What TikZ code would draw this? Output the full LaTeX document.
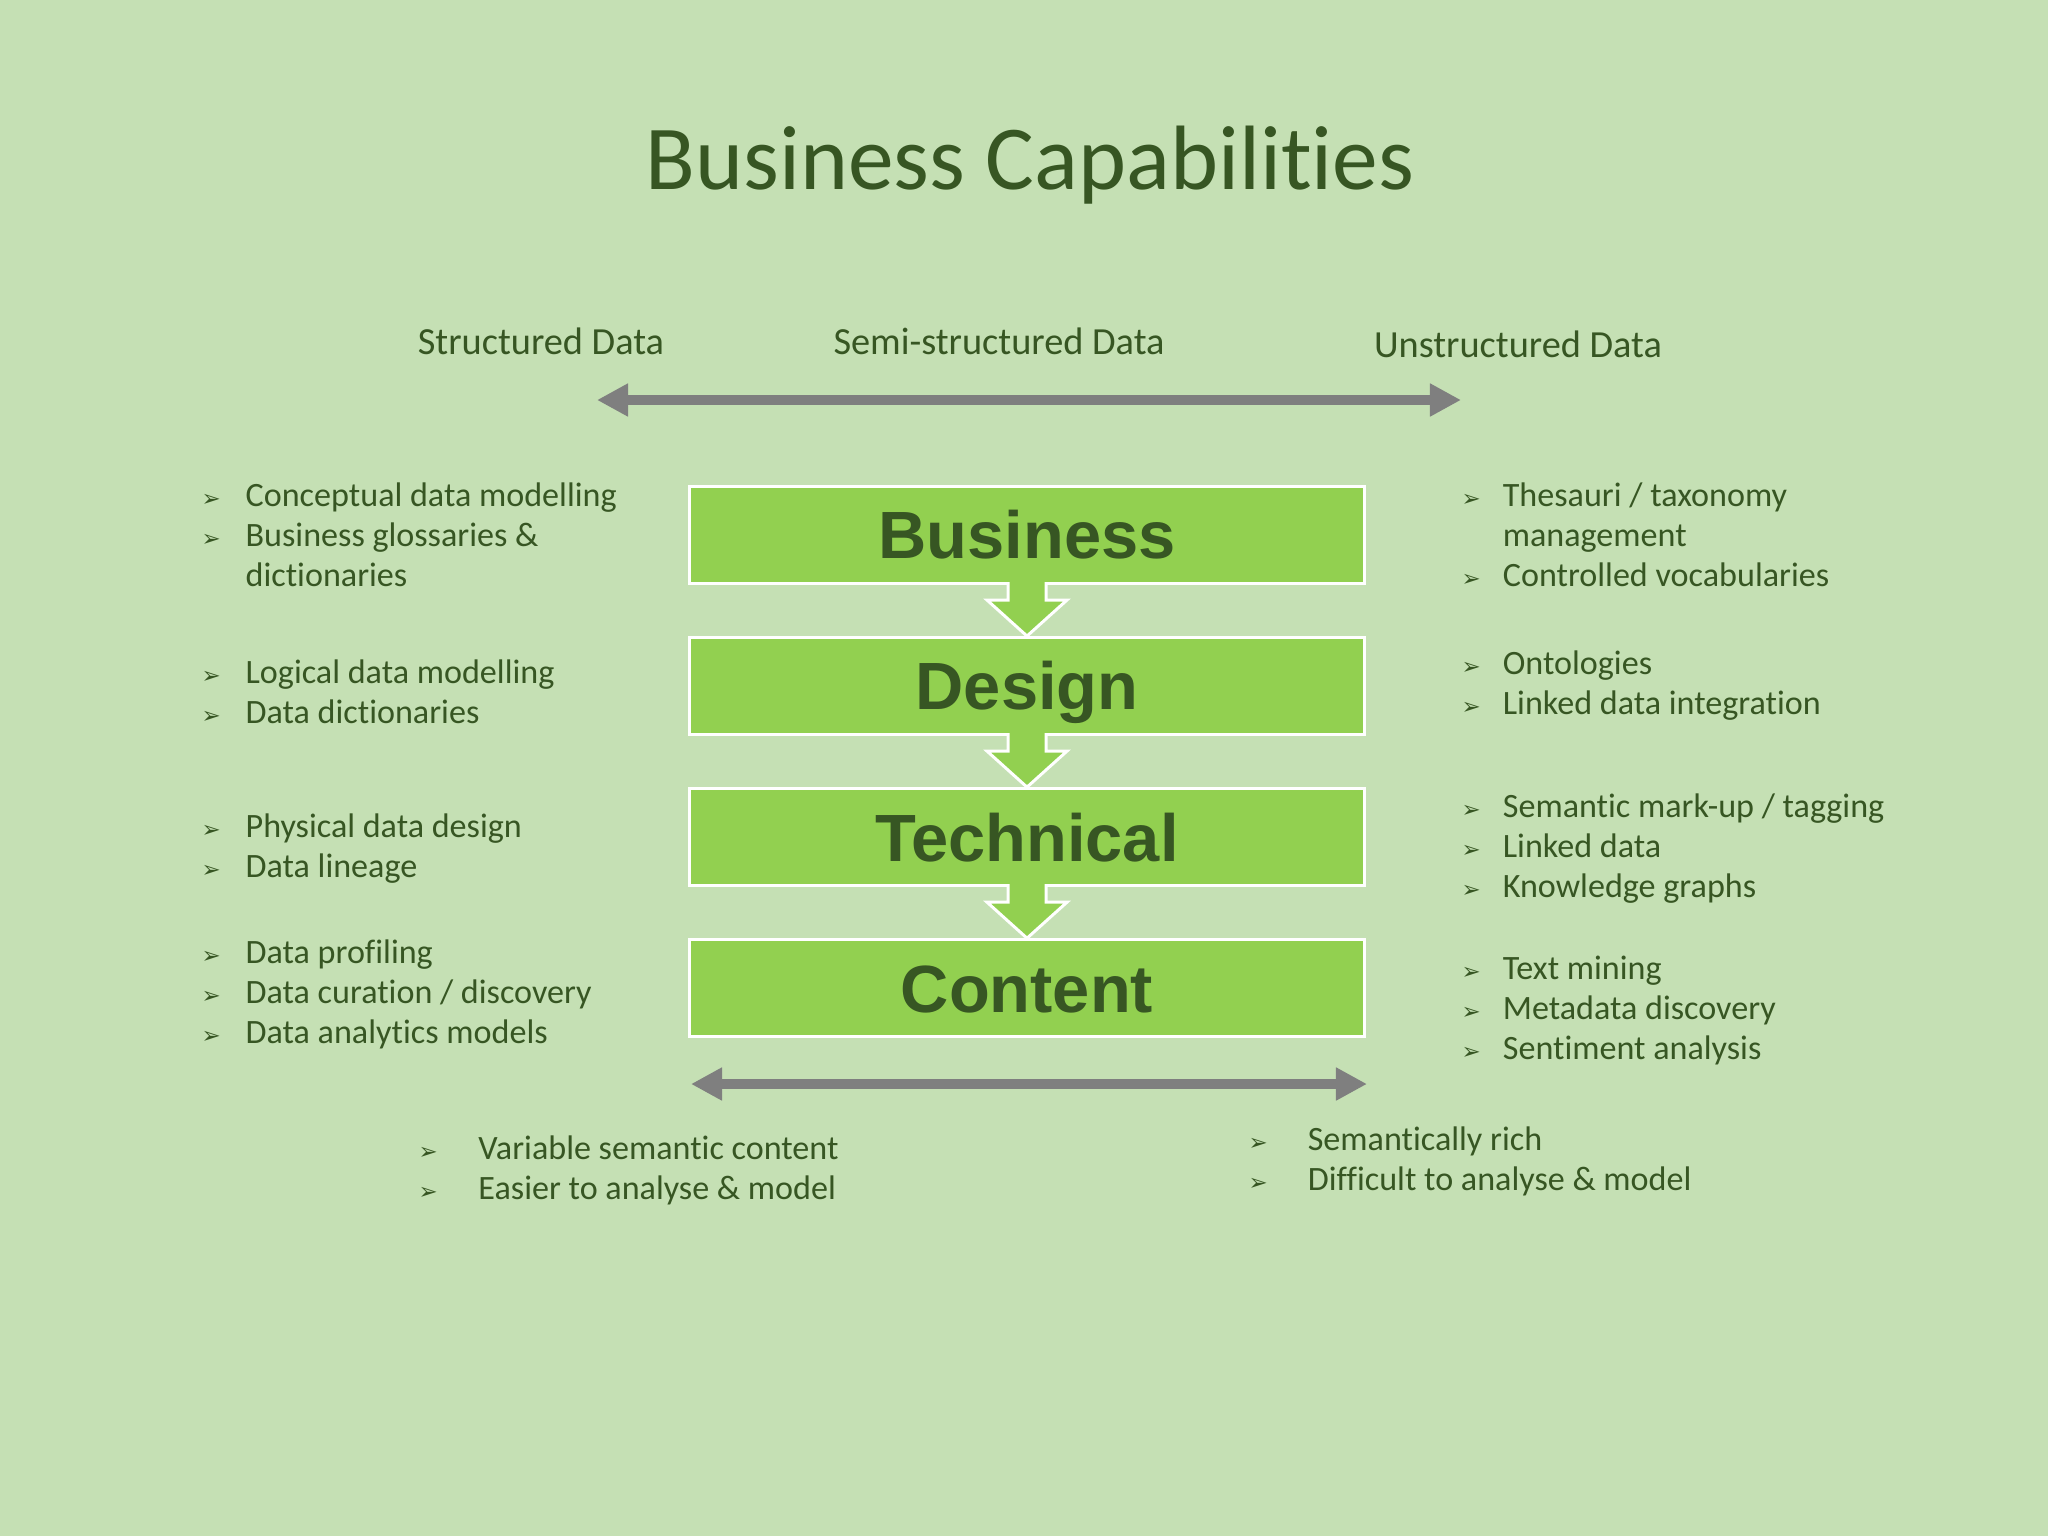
\documentclass[tikz,border=0pt]{standalone}
\usepackage{fontspec}
\setmainfont[Ligatures=NoCommon]{Carlito}
\newfontfamily\boxfont{Liberation Sans}
\newfontfamily\bulfont{DejaVu Sans}
\usetikzlibrary{arrows.meta,positioning,calc}
\definecolor{paper}{HTML}{C5E0B4}
\definecolor{leaf}{HTML}{92D050}
\definecolor{moss}{HTML}{375623}
\definecolor{slate}{HTML}{7F7F7F}
\newcommand{\bul}{{\bulfont\fontsize{6.5pt}{6.5pt}\selectfont ➢}}
\newcommand{\blist}[2][12.5pt]{\begin{tabular}[t]{@{}p{#1}@{}l@{}}#2\end{tabular}}
\tikzset{
  heading/.style={text=moss,font=\fontsize{26pt}{30pt}\selectfont,anchor=base,inner sep=0pt},
  axislabel/.style={text=moss,font=\fontsize{10.9pt}{13pt}\selectfont,anchor=base,inner sep=0pt},
  bl/.style={text=moss,font=\fontsize{9.7pt}{11.5pt}\selectfont,anchor=base west,inner sep=0pt},
  % lagen
  lvl/.style={rectangle,draw=white,fill=leaf,line width=0.85pt,minimum width=6.74cm,
              minimum height=0.97cm,inner sep=0pt,text=moss,text height=13.6pt,text depth=0pt,
              font=\boxfont\bfseries\fontsize{19pt}{22pt}\selectfont},
  flow/.style={draw=white,fill=leaf,line width=0.85pt,line join=miter},
  span/.style={{Triangle[length=0.31cm,width=0.31cm]}-{Triangle[length=0.31cm,width=0.31cm]},
               draw=slate,line width=0.1cm},
}
\begin{document}
\begin{tikzpicture}[x=0.01cm,y=-0.01cm]
\fill[paper] (0,0) rectangle (2048,1536);
  \node[heading] (ttl) at (1030,189) {Business Capabilities};
  \node[axislabel] (sd) at (541,354) {Structured Data};
  \node[axislabel] (ssd) at (999,354) {Semi-structured Data};
  \node[axislabel] (ud) at (1518,357) {Unstructured Data};
  \coordinate (top-l) at (597,400);
  \coordinate (top-r) at (1461,400);
  \draw[span] (top-l) -- (top-r);
  \node[lvl] (bus) at (1027,535) {Business};
  \node[lvl,below=0.51cm of bus] (des) {Design};
  \node[lvl,below=0.51cm of des] (tec) {Technical};
  \node[lvl,below=0.51cm of tec] (con) {Content};
  \foreach \a/\b in {bus/des,des/tec,tec/con}
    \filldraw[flow] ($(\a.south)+(-19,-3)$) -- ($(\a.south)+(-19,15)$) -- ($(\a.south)+(-40,15)$)
      -- (\b.north) -- ($(\a.south)+(40,15)$) -- ($(\a.south)+(19,15)$) -- ($(\a.south)+(19,-3)$);
  \coordinate (low-l) at (691,1084);
  \coordinate (low-r) at (1367,1084);
  \draw[span] (low-l) -- (low-r);
  % vänster
  \node[bl] (l1) at (201,506) {\blist{\bul & Conceptual data modelling\\ \bul & Business glossaries \&\\ & dictionaries}};
  \node[bl] (l2) at (201,683) {\blist{\bul & Logical data modelling\\ \bul & Data dictionaries}};
  \node[bl] (l3) at (201,837) {\blist{\bul & Physical data design\\ \bul & Data lineage}};
  \node[bl] (l4) at (201,963) {\blist{\bul & Data profiling\\ \bul & Data curation / discovery\\ \bul & Data analytics models}};
  % höger
  \node[bl] (r1) at (1461,506) {\blist[11.7pt]{\bul & Thesauri / taxonomy\\ & management\\ \bul & Controlled vocabularies}};
  \node[bl] (r2) at (1461,674) {\blist[11.7pt]{\bul & Ontologies\\ \bul & Linked data integration}};
  \node[bl] (r3) at (1461,817) {\blist[11.7pt]{\bul & Semantic mark-up / tagging\\ \bul & Linked data\\ \bul & Knowledge graphs}};
  \node[bl] (r4) at (1461,979) {\blist[11.7pt]{\bul & Text mining\\ \bul & Metadata discovery\\ \bul & Sentiment analysis}};
  % nederst
  \node[bl] (b1) at (418,1159) {\blist[17pt]{\bul & Variable semantic content\\ \bul & Easier to analyse \& model}};
  \node[bl] (b2) at (1248,1150) {\blist[16.8pt]{\bul & Semantically rich\\ \bul & Difficult to analyse \& model}};
\end{tikzpicture}
\end{document}
